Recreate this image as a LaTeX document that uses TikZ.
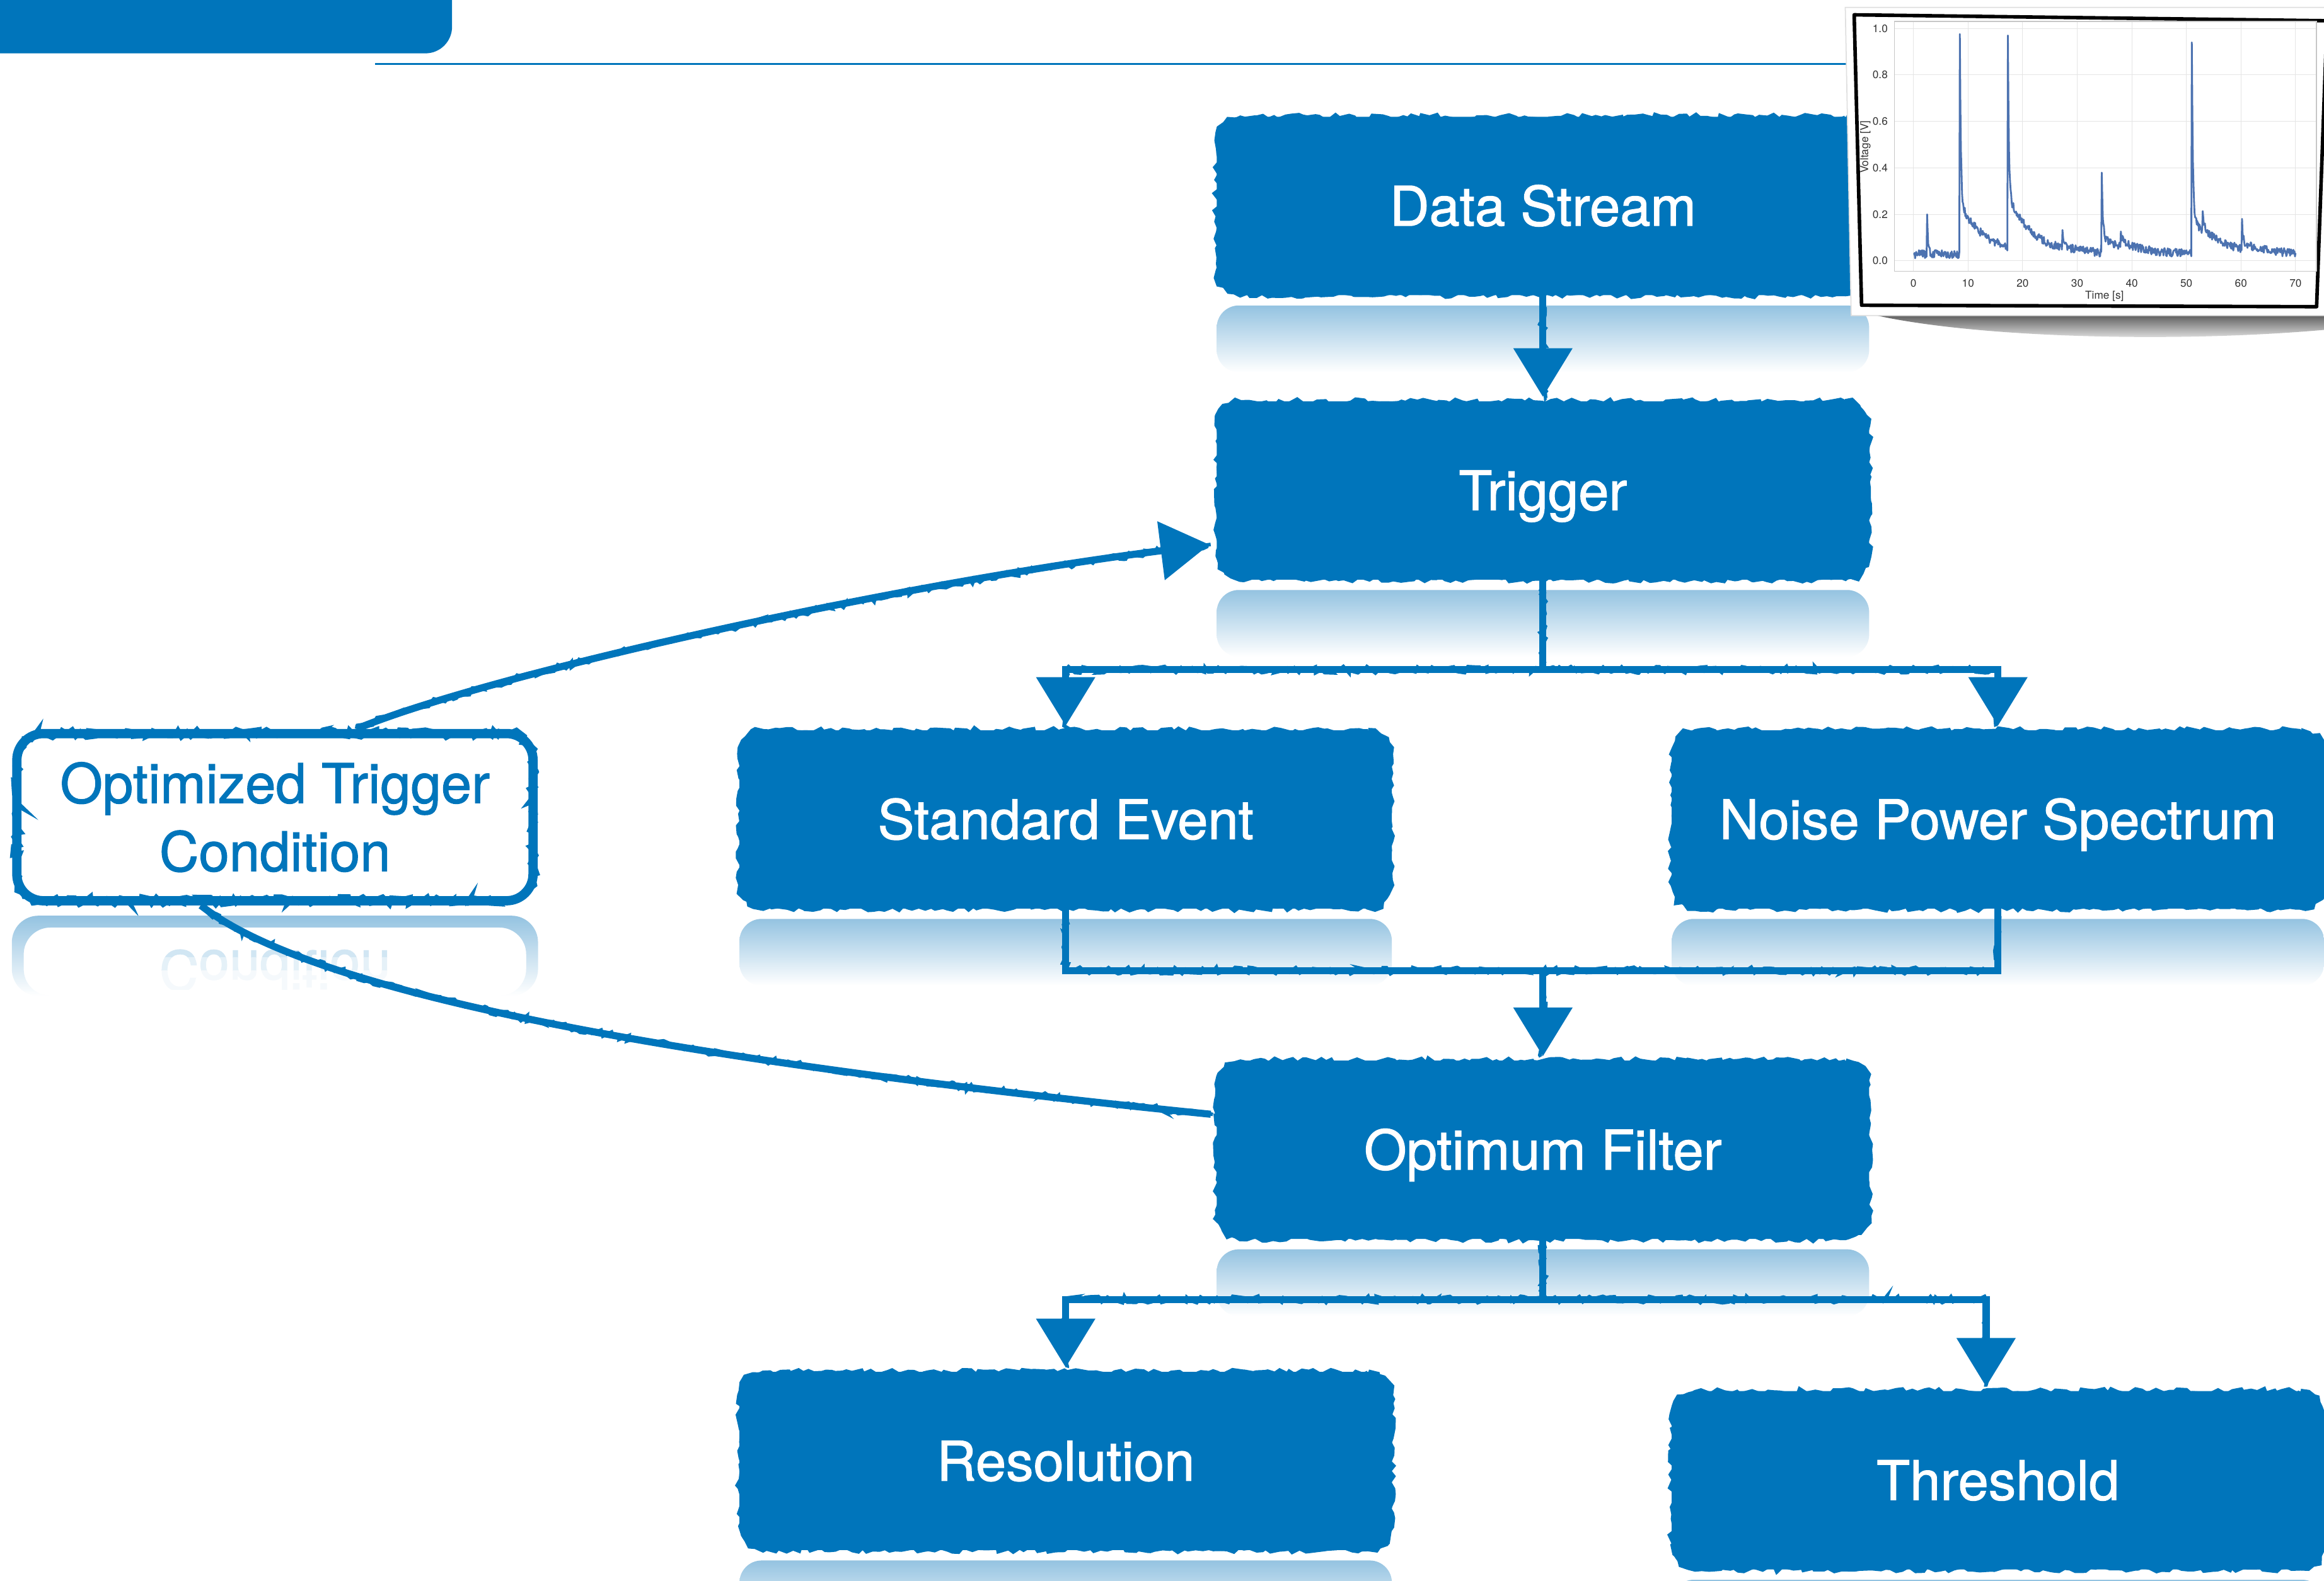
\documentclass[tikz,border=0pt]{standalone}
\usepackage{fontspec}
\setmainfont{TeX Gyre Heros}
\newfontfamily\boxfont[FakeBold=1.3]{TeX Gyre Heros}
\usetikzlibrary{arrows.meta,calc,decorations.pathmorphing}
\definecolor{mainblue}{RGB}{0,117,187}
\definecolor{reflblue}{RGB}{148,195,225}
\definecolor{sigblue}{RGB}{76,114,176}
\begin{document}
\pgfmathsetseed{3}
\begin{tikzpicture}[x=0.023514cm, y=-0.023514cm,
  bluebox/.style={fill=mainblue, draw=mainblue, line width=1.5pt, rounded corners=10pt,
    minimum width=293pt, minimum height=79pt, inner sep=0pt, text=white,
    text height=17.8pt, text depth=0pt,
    font=\boxfont\fontsize{24.7}{30}\selectfont,
    postaction={draw=mainblue, line width=2.6pt, sharp corners, decorate,
      decoration={random steps, segment length=2.5pt, amplitude=1.2pt}}},
  otcbox/.style={fill=white, draw=mainblue, line width=4.2pt, rounded corners=12pt,
    minimum width=233pt, minimum height=75.5pt, inner sep=0pt, text=mainblue, align=center,
    font=\boxfont\fontsize{24.7}{30.8}\selectfont,
    postaction={draw=mainblue, line width=2.4pt, sharp corners, decorate,
      decoration={random steps, segment length=2pt, amplitude=1.8pt}}},
  conn/.style={draw=mainblue, line width=3.2pt,
    postaction={draw=mainblue, line width=1.6pt, arrows={-}, decorate,
      decoration={random steps, segment length=2pt, amplitude=1.5pt}}},
  arr/.style={conn, -{Triangle[width=26pt,length=22pt]}, shorten >=2pt},
  refl/.style={top color=reflblue, bottom color=white, rounded corners=10pt},
  ticklab/.style={font=\fontsize{4.9}{5.5}\selectfont, text=black!80, inner sep=0pt}
]
\useasboundingbox (0,0) rectangle (1568,1067);
\fill[white] (0,0) rectangle (1568,1067);

% banner and rule
\fill[mainblue, rounded corners=12pt] (-30,-30) rectangle (305,36);
\draw[mainblue, line width=0.8pt] (253,43) -- (1262,43);

% boxes
\node[bluebox] (ds) at (1041,139) {Data Stream};
\node[bluebox] (tr) at (1041,331) {Trigger};
\node[bluebox] (se) at (719,553) {Standard Event};
\node[bluebox] (nps) at (1348,553) {Noise Power Spectrum};
\node[bluebox] (of) at (1041,776) {Optimum Filter};
\node[bluebox] (res) at (719,986) {Resolution};
\node[bluebox] (thr) at (1348,999) {Threshold};
\node[otcbox] (otc) at (185.5,551.5) {Optimized Trigger\\Condition};

% reflections
\foreach \n in {ds,tr,se,nps,of,res,thr}{
  \shade[refl] ($(\n.south west)+(0,7)$) rectangle ($(\n.south east)+(0,52)$);
}
% reflection of the white box
\shade[top color=reflblue, bottom color=white, even odd rule, rounded corners=12pt]
  (8,618) rectangle (363,672) (16,626) rectangle (355,672);
\foreach \ya/\yb/\c [count=\i] in {636/646/18, 646/655/10, 655/668/4}{
  \begin{scope}
    \clip (0,\ya) rectangle (380,\yb);
    \node[text=mainblue!\c, font=\boxfont\fontsize{24.7}{30}\selectfont, yscale=-1, transform shape,
      inner sep=0pt] (mirror\i) at (185.5,655) {Condition};
  \end{scope}
}

% connectors
\coordinate (split1) at (1041,452);
\coordinate (merge) at (1041,655);
\coordinate (split2) at (1041,877);
\draw[arr] (ds.south) -- (tr.north);
\draw[conn] (tr.south) -- (split1);
\draw[arr] (split1) -| (se.north);
\draw[arr] (split1) -| (nps.north);
\draw[conn] (se.south) |- (merge);
\draw[conn] (nps.south) |- (merge);
\draw[arr] (merge) -- (of.north);
\draw[conn] (of.south) -- (split2);
\draw[arr] (split2) -| (res.north);
\draw[arr] (split2) -| ($(thr.north)+(-8,0)$);
\draw[arr] ($(otc.north)+(55,0)$) .. controls (330,455) and (600,395) .. ($(tr.south west)+(-2,-24)$);
\draw[conn] ($(otc.south)+(-50,0)$) .. controls (210,670) and (450,715) .. ($(of.west)+(-4,-24)$);

% inset plot card
\shade[top color=black!65, bottom color=white] (1262,212) .. controls (1330,228) and (1470,232) .. (1575,222) -- (1575,212) -- cycle;
\filldraw[fill=white, draw=black!12, line width=0.5pt] (1245,5) -- (1575,5) -- (1575,213) -- (1249,213) -- cycle;
\draw[black, line width=1.6pt, line join=round] (1251,10) -- (1570,14) -- (1563,207) -- (1256,206) -- cycle;
\begin{scope}[shift={(1291,176)}, xscale=3.683, yscale=-156.8,
  declare function={
    pk(\t,\s,\a,\b)=(\t>=\s-0.05)*(\a*exp(-min(max(\t-\s,0),3)/0.18)+\b*exp(-min(max(\t-\s,0),60)/4.5));
    sig(\t)=0.028+pk(\t,2.5,0.16,0.004)+pk(\t,8.5,0.72,0.22)+pk(\t,17.3,0.68,0.22)
      +pk(\t,27.3,0.08,0.01)+pk(\t,34.5,0.28,0.07)+pk(\t,38,0.06,0.02)
      +pk(\t,51,0.76,0.15)+pk(\t,53,0.06,0.02)+pk(\t,60.2,0.1,0.025);
  }]
  \fill[white] (-3.5,-0.045) rectangle (73.8,1.03);
  \foreach \tt in {0,10,...,70} \draw[black!10, line width=0.3pt] (\tt,-0.045) -- (\tt,1.03);
  \foreach \vv in {0,0.2,0.4,0.6,0.8,1} \draw[black!10, line width=0.3pt] (-3.5,\vv) -- (73.8,\vv);
  \draw[black!22, line width=0.4pt] (-3.5,-0.045) rectangle (73.8,1.03);
  \draw[sigblue, line width=0.8pt, line join=round]
    plot[domain=0:70, samples=701] (\x,{sig(\x)+0.018*rand});
  \foreach \vv/\ll [count=\i] in {0/0.0,0.2/0.2,0.4/0.4,0.6/0.6,0.8/0.8,1/1.0}
    \node[ticklab] (ytick\i) at (-6.1,\vv) {\ll};
  \foreach \tt [count=\i] in {0,10,...,70}
    \node[ticklab] (xtick\i) at (\tt,-0.096) {\tt};
  \node[ticklab] (xlabel) at (35,-0.153) {Time [s]};
  \node[ticklab, rotate=90] (ylabel) at (-8.8,0.49) {Voltage [V]};
\end{scope}
\end{tikzpicture}
\end{document}
